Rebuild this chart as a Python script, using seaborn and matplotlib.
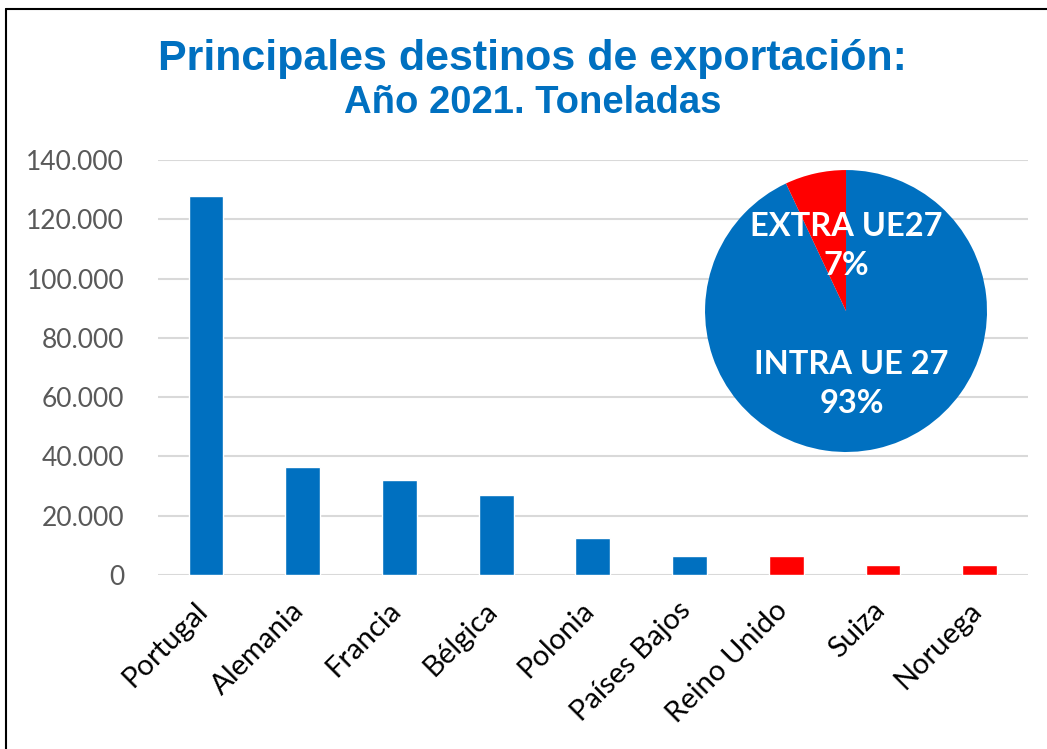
import matplotlib
matplotlib.use("Agg")
import matplotlib.pyplot as plt
import matplotlib.transforms as mtransforms
import seaborn as sns
import pandas as pd
from matplotlib.lines import Line2D
from matplotlib.ticker import FuncFormatter

# datos del gráfico
paises = ['Portugal', 'Alemania', 'Francia', 'Bélgica', 'Polonia',
          'Países Bajos', 'Reino Unido', 'Suiza', 'Noruega']
toneladas = [128000, 36400, 31900, 26900, 12400, 6400, 6300, 3300, 3300]
grupo = ['intra'] * 6 + ['extra'] * 3

pie_etiquetas = ['INTRA UE 27\n93%', 'EXTRA UE27\n7%']
pie_valores = [93, 7]

AZUL = '#0070C0'
ROJO = '#FF0000'
GRIS = '#595959'

sns.set_theme(style='white')
plt.rcParams['font.family'] = ['Lato', 'DejaVu Sans']

df = pd.DataFrame({'pais': paises, 'toneladas': toneladas, 'grupo': grupo})

fig = plt.figure(figsize=(10.47, 7.49), dpi=100)
ax = fig.add_axes([0.1505, 0.2323, 0.8315, 0.5541])

sns.barplot(data=df, x='pais', y='toneladas', hue='grupo',
            palette={'intra': AZUL, 'extra': ROJO}, dodge=False,
            width=0.36, legend=False, ax=ax, saturation=1)

ax.set_ylim(0, 140000)
ax.set_yticks(range(0, 140001, 20000))
ax.yaxis.set_major_formatter(FuncFormatter(lambda v, p: f'{int(v):,}'.replace(',', '.')))
ax.grid(axis='y', color='#D9D9D9', linewidth=1.5)
ax.set_axisbelow(True)
sns.despine(ax=ax, left=True, bottom=True)
ax.set_xlabel('')
ax.set_ylabel('')
ax.tick_params(axis='y', labelsize=19, colors=GRIS, pad=24, length=0)
ax.tick_params(axis='x', labelsize=21, colors='black', length=0, pad=16)
desplaza = mtransforms.ScaledTranslation(-12 / 100, 0, fig.dpi_scale_trans)
for lbl in ax.get_xticklabels():
    lbl.set_rotation(45)
    lbl.set_ha('right')
    lbl.set_rotation_mode('anchor')
    lbl.set_transform(lbl.get_transform() + desplaza)

# título
fig.text(0.509, 0.921, 'Principales destinos de exportación:', ha='center', va='center',
         fontsize=31, fontweight='bold', color=AZUL, family=['Liberation Sans', 'DejaVu Sans'])
fig.text(0.509, 0.862, 'Año 2021. Toneladas', ha='center', va='center',
         fontsize=27.5, fontweight='bold', color=AZUL, family=['Liberation Sans', 'DejaVu Sans'])

# tarta INTRA / EXTRA
axp = fig.add_axes([0.6734, 0.3965, 0.2693, 0.3765])
axp.pie(pie_valores, colors=[AZUL, ROJO], startangle=90, counterclock=False,
        wedgeprops=dict(linewidth=0))
axp.set_xlim(-1, 1)
axp.set_ylim(-1, 1)
axp.set_aspect('equal')
axp.text(0.04, -0.52, pie_etiquetas[0], ha='center', va='center', color='white',
         fontsize=23.5, fontweight='bold', linespacing=1.42)
axp.text(0.0, 0.46, pie_etiquetas[1], ha='center', va='center', color='white',
         fontsize=23.5, fontweight='bold', linespacing=1.42)

# marco
fig.add_artist(Line2D([0.006, 0.006], [0, 0.988], color='black', linewidth=1.5))
fig.add_artist(Line2D([0.006, 1.0], [0.988, 0.988], color='black', linewidth=1.5))

fig.savefig('out.png', dpi=100)
